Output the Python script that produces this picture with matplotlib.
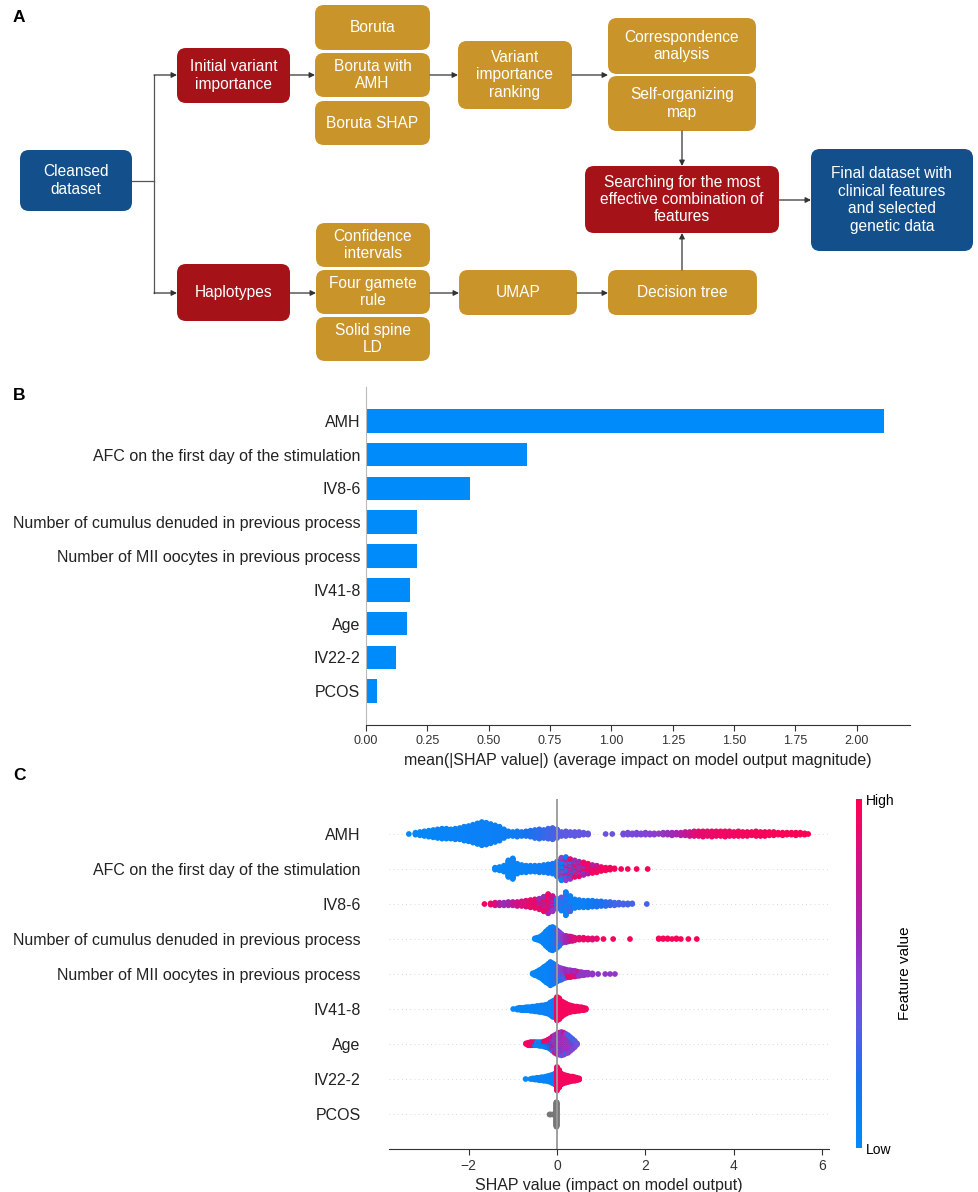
import numpy as np
import matplotlib
matplotlib.use('Agg')
import matplotlib.pyplot as plt
from matplotlib.patches import FancyBboxPatch
from matplotlib.colors import LinearSegmentedColormap, Normalize
from matplotlib.cm import ScalarMappable

plt.rcParams['font.family'] = ['Liberation Sans', 'DejaVu Sans']

# ---------------- data ----------------
features = ['AMH', 'AFC on the first day of the stimulation', 'IV8-6',
            'Number of cumulus denuded in previous process',
            'Number of MII oocytes in previous process', 'IV41-8', 'Age', 'IV22-2', 'PCOS']
mean_abs_shap = [2.11, 0.655, 0.423, 0.209, 0.206, 0.181, 0.166, 0.122, 0.043]
bar_ticks = [0.0, 0.25, 0.5, 0.75, 1.0, 1.25, 1.5, 1.75, 2.0]
swarm_ticks = [-2, 0, 2, 4, 6]

# beeswarm as (shap value, number of dots, feature value 0..1 / None = missing)
amh_swarm = [
    (-3.35, 1, 0.02), (-3.2, 4, 0.03), (-3.1, 6, 0.03), (-3.0, 8, 0.04), (-2.9, 10, 0.04),
    (-2.8, 12, 0.05), (-2.7, 14, 0.05), (-2.6, 16, 0.05), (-2.5, 16, 0.06), (-2.4, 15, 0.06),
    (-2.3, 17, 0.06), (-2.2, 18, 0.07), (-2.1, 22, 0.07), (-2.0, 24, 0.08), (-1.9, 28, 0.08),
    (-1.8, 32, 0.08), (-1.7, 36, 0.08), (-1.6, 34, 0.09), (-1.5, 30, 0.09), (-1.4, 26, 0.1),
    (-1.3, 22, 0.1), (-1.2, 14, 0.1), (-1.1, 8, 0.12), (-1.0, 7, 0.12), (-0.9, 9, 0.14),
    (-0.8, 7, 0.15), (-0.7, 8, 0.18), (-0.6, 10, 0.2), (-0.5, 13, 0.22), (-0.4, 15, 0.24),
    (-0.3, 13, 0.26), (-0.2, 16, 0.28), (-0.1, 18, 0.3), (0.0, 14, 0.32), (0.1, 7, 0.34),
    (0.2, 8, 0.35), (0.3, 6, 0.36), (0.4, 7, 0.36), (0.5, 6, 0.37), (0.6, 4, 0.38),
    (0.7, 3, 0.38), (1.1, 1, 0.4), (1.25, 1, 0.4), (1.5, 3, 0.42), (1.6, 4, 0.43),
    (1.7, 3, 0.44), (1.8, 4, 0.45), (1.9, 3, 0.46), (2.0, 4, 0.48), (2.1, 3, 0.5),
    (2.2, 3, 0.5), (2.3, 2, 0.52), (2.4, 4, 0.55), (2.5, 4, 0.58), (2.6, 5, 0.6),
    (2.7, 4, 0.65), (2.8, 5, 0.7), (2.9, 6, 0.75), (3.0, 7, 0.8), (3.1, 8, 0.85),
    (3.2, 8, 0.88), (3.3, 9, 0.9), (3.4, 8, 0.9), (3.5, 9, 0.92), (3.6, 8, 0.92),
    (3.7, 8, 0.93), (3.8, 9, 0.93), (3.9, 8, 0.94), (4.0, 7, 0.94), (4.1, 8, 0.95),
    (4.2, 7, 0.95), (4.3, 7, 0.95), (4.4, 6, 0.96), (4.5, 8, 0.96), (4.6, 7, 0.96),
    (4.7, 7, 0.97), (4.8, 6, 0.97), (4.9, 6, 0.97), (5.0, 4, 0.98), (5.1, 5, 0.98),
    (5.2, 4, 0.98), (5.3, 4, 0.99), (5.4, 5, 0.99), (5.5, 4, 0.99), (5.6, 3, 1.0), (5.68, 1, 1.0),
]
afc_swarm = [
    (-1.4, 4, 0.03), (-1.3, 6, 0.04), (-1.2, 10, 0.05), (-1.1, 26, 0.05), (-1.0, 32, 0.06),
    (-0.9, 16, 0.06), (-0.8, 12, 0.07), (-0.7, 11, 0.07), (-0.6, 10, 0.08), (-0.5, 10, 0.08),
    (-0.4, 11, 0.1), (-0.3, 12, 0.1), (-0.2, 14, 0.12), (-0.1, 16, 0.12),
    (0.0, 16, 0.1), (0.0, 5, 0.4), (0.0, 2, None),
    (0.1, 16, 0.1), (0.1, 11, 0.45), (0.1, 5, 0.85), (0.1, 3, None),
    (0.2, 14, 0.15), (0.2, 12, 0.5), (0.2, 8, 0.9), (0.2, 2, None),
    (0.3, 9, 0.15), (0.3, 11, 0.55), (0.3, 9, 0.9), (0.3, 2, None),
    (0.4, 7, 0.2), (0.4, 10, 0.6), (0.4, 9, 0.9),
    (0.5, 5, 0.3), (0.5, 9, 0.6), (0.5, 9, 0.92),
    (0.6, 3, 0.3), (0.6, 8, 0.65), (0.6, 9, 0.92),
    (0.7, 6, 0.7), (0.7, 10, 0.95), (0.8, 4, 0.7), (0.8, 9, 0.95),
    (0.9, 3, 0.75), (0.9, 8, 0.95), (1.0, 7, 0.95), (1.1, 5, 0.95), (1.2, 4, 0.97),
    (1.3, 2, 0.97), (1.45, 1, 0.97), (1.6, 1, 0.98), (1.8, 1, 0.98), (2.05, 1, 0.99),
]
iv86_swarm = [
    (-1.64, 1, 0.95), (-1.5, 3, 0.92), (-1.4, 5, 0.85), (-1.3, 5, 0.7), (-1.2, 5, 0.6),
    (-1.1, 6, 0.65), (-1.0, 6, 0.75), (-0.9, 7, 0.8), (-0.8, 8, 0.85), (-0.7, 10, 0.85),
    (-0.6, 12, 0.9), (-0.5, 14, 0.9), (-0.4, 12, 0.9), (-0.4, 5, 0.6),
    (-0.3, 16, 0.92), (-0.3, 7, 0.6), (-0.2, 20, 0.92), (-0.2, 10, 0.65),
    (-0.1, 14, 0.8), (-0.1, 10, 0.55), (0.0, 7, 0.5), (0.0, 9, 0.15),
    (0.1, 15, 0.1), (0.1, 6, 0.35), (0.2, 28, 0.08), (0.2, 8, 0.3),
    (0.3, 18, 0.08), (0.3, 6, 0.3), (0.4, 14, 0.08), (0.5, 12, 0.08), (0.6, 11, 0.1),
    (0.7, 11, 0.12), (0.8, 10, 0.15), (0.9, 9, 0.18), (1.0, 8, 0.2), (1.1, 7, 0.22),
    (1.2, 6, 0.25), (1.3, 5, 0.28), (1.4, 4, 0.3), (1.5, 3, 0.3), (1.6, 3, 0.3),
    (1.7, 2, 0.3), (2.03, 1, 0.3),
]
cumulus_swarm = [
    (-0.5, 2, 0.03), (-0.45, 4, 0.04), (-0.4, 6, 0.05), (-0.35, 10, 0.05), (-0.3, 16, 0.06),
    (-0.25, 24, 0.06), (-0.2, 30, 0.07), (-0.15, 34, 0.08), (-0.15, 2, None),
    (-0.1, 34, 0.1), (-0.1, 4, None), (-0.05, 30, 0.12), (-0.05, 4, None),
    (0.0, 18, 0.15), (0.0, 9, 0.4), (0.0, 2, None), (0.05, 12, 0.2), (0.05, 11, 0.45),
    (0.1, 5, 0.25), (0.1, 11, 0.5), (0.15, 11, 0.55), (0.2, 11, 0.6), (0.25, 9, 0.65),
    (0.3, 8, 0.75), (0.35, 7, 0.8), (0.4, 5, 0.85), (0.5, 4, 0.9), (0.6, 4, 0.92),
    (0.7, 3, 0.92), (0.8, 3, 0.85), (0.9, 2, 0.9), (1.05, 1, 0.95), (1.27, 1, 0.95),
    (1.65, 1, 0.95), (2.3, 2, 0.97), (2.4, 2, 0.97), (2.5, 2, 0.97), (2.6, 1, 0.97),
    (2.7, 2, 0.98), (2.8, 1, 0.98), (2.97, 1, 0.99), (3.16, 1, 0.99),
]
mii_swarm = [
    (-0.55, 2, 0.03), (-0.5, 5, 0.04), (-0.45, 8, 0.05), (-0.4, 12, 0.05), (-0.35, 16, 0.06),
    (-0.3, 22, 0.06), (-0.25, 27, 0.07), (-0.2, 32, 0.07), (-0.15, 36, 0.08), (-0.15, 2, None),
    (-0.1, 30, 0.1), (-0.1, 4, None), (-0.05, 26, 0.12), (-0.05, 4, None),
    (0.0, 16, 0.15), (0.0, 9, 0.4), (0.05, 12, 0.2), (0.05, 9, 0.45),
    (0.1, 10, 0.25), (0.1, 9, 0.5), (0.15, 7, 0.3), (0.15, 9, 0.55), (0.2, 5, 0.3), (0.2, 9, 0.6),
    (0.25, 7, 0.6), (0.25, 5, 0.9), (0.3, 7, 0.55), (0.3, 5, 0.92), (0.35, 6, 0.6), (0.35, 4, 0.9),
    (0.4, 6, 0.6), (0.4, 4, 0.85), (0.45, 5, 0.6), (0.45, 3, 0.8), (0.5, 5, 0.55), (0.5, 2, 0.8),
    (0.55, 6, 0.55), (0.6, 5, 0.55), (0.65, 4, 0.55), (0.7, 4, 0.55), (0.8, 3, 0.55),
    (0.93, 1, 0.55), (1.09, 1, 0.55), (1.2, 1, 0.55), (1.31, 1, 0.55),
]
iv418_swarm = [
    (-0.99, 1, 0.03), (-0.9, 3, 0.03), (-0.85, 4, 0.04), (-0.8, 5, 0.04), (-0.75, 5, 0.05),
    (-0.7, 6, 0.05), (-0.65, 6, 0.05), (-0.6, 7, 0.06), (-0.55, 8, 0.06), (-0.5, 9, 0.06),
    (-0.45, 10, 0.07), (-0.4, 11, 0.07), (-0.35, 12, 0.07), (-0.3, 13, 0.08), (-0.25, 15, 0.08),
    (-0.2, 17, 0.08), (-0.15, 22, 0.09), (-0.1, 27, 0.09), (-0.05, 30, 0.1),
    (0.0, 40, 0.95), (0.05, 36, 0.95), (0.1, 27, 0.95), (0.15, 22, 0.95), (0.2, 18, 0.95),
    (0.25, 14, 0.95), (0.3, 12, 0.95), (0.35, 10, 0.95), (0.4, 9, 0.95), (0.45, 8, 0.95),
    (0.5, 7, 0.95), (0.55, 6, 0.95), (0.6, 5, 0.95), (0.65, 3, 0.95),
]
age_swarm = [
    (-0.7, 2, 0.95), (-0.65, 5, 0.95), (-0.6, 6, 0.92), (-0.55, 6, 0.9), (-0.5, 4, 0.9),
    (-0.5, 2, 0.08), (-0.45, 6, 0.06), (-0.4, 6, 0.06), (-0.4, 1, 0.9), (-0.35, 7, 0.08),
    (-0.3, 6, 0.1), (-0.3, 3, 0.9), (-0.25, 6, 0.12), (-0.25, 5, 0.9), (-0.2, 6, 0.15),
    (-0.2, 8, 0.88), (-0.15, 7, 0.2), (-0.15, 11, 0.85), (-0.1, 9, 0.25), (-0.1, 15, 0.8),
    (-0.05, 9, 0.3), (-0.05, 11, 0.75), (-0.05, 9, 0.55),
    (0.0, 11, 0.35), (0.0, 11, 0.6), (0.0, 11, 0.85),
    (0.05, 12, 0.3), (0.05, 12, 0.55), (0.05, 12, 0.85),
    (0.1, 13, 0.3), (0.1, 13, 0.55), (0.1, 12, 0.8),
    (0.15, 12, 0.25), (0.15, 12, 0.5), (0.15, 12, 0.75),
    (0.2, 11, 0.25), (0.2, 11, 0.5), (0.2, 10, 0.7),
    (0.25, 10, 0.3), (0.25, 10, 0.5), (0.25, 9, 0.7),
    (0.3, 8, 0.3), (0.3, 8, 0.5), (0.3, 7, 0.7),
    (0.35, 6, 0.3), (0.35, 6, 0.45), (0.35, 5, 0.65),
    (0.4, 4, 0.3), (0.4, 4, 0.45), (0.4, 3, 0.6), (0.45, 3, 0.4),
]
iv222_swarm = [
    (-0.71, 1, 0.03), (-0.6, 1, 0.03), (-0.55, 2, 0.04), (-0.5, 3, 0.04), (-0.45, 4, 0.05),
    (-0.4, 5, 0.05), (-0.35, 6, 0.05), (-0.3, 7, 0.06), (-0.25, 8, 0.06), (-0.2, 10, 0.07),
    (-0.15, 12, 0.07), (-0.1, 15, 0.08), (-0.05, 19, 0.08),
    (0.0, 40, 0.95), (0.05, 30, 0.95), (0.1, 19, 0.95), (0.15, 15, 0.95), (0.2, 13, 0.95),
    (0.25, 11, 0.95), (0.3, 9, 0.95), (0.35, 8, 0.95), (0.4, 7, 0.95), (0.45, 5, 0.95),
    (0.5, 3, 0.95),
]
pcos_swarm = [(-0.19, 1, None), (-0.15, 1, None), (-0.11, 1, None), (-0.07, 1, None),
              (-0.015, 80, None)]

swarms = [amh_swarm, afc_swarm, iv86_swarm, cumulus_swarm, mii_swarm,
          iv418_swarm, age_swarm, iv222_swarm, pcos_swarm]

# ---------------- helpers ----------------
shap_blue = '#008bfb'
red_blue = LinearSegmentedColormap.from_list('red_blue', [
    (0.0, '#008bfb'), (0.2, '#1a72f0'), (0.35, '#5c5be2'), (0.5, '#8a3fd0'),
    (0.62, '#a026b4'), (0.78, '#c8148f'), (0.9, '#e80a6c'), (1.0, '#ff0052')])


def expand(entries):
    """turn (x, n, f) groups into dots, mixing groups that share an x"""
    groups = {}
    for x, n, f in entries:
        groups.setdefault(x, []).append((n, f))
    xs, fs = [], []
    for x, grp in groups.items():
        items = []
        for n, f in grp:
            for j in range(n):
                items.append(((j + 0.5) / n, f))
        items.sort(key=lambda t: t[0])
        for _, f in items:
            xs.append(x)
            fs.append(np.nan if f is None else f)
    return np.array(xs), np.array(fs)


def swarm_offsets(xs, row_height=0.4, nbins=100):
    # same stacking rule as shap's summary plot
    span = xs.max() - xs.min()
    quant = np.round(nbins * (xs - xs.min()) / (span + 1e-8))
    order = np.argsort(quant, kind='stable')
    ys = np.zeros(len(xs))
    layer, last = 0, None
    for i in order:
        if quant[i] != last:
            layer = 0
        ys[i] = np.ceil(layer / 2) * ((layer % 2) * 2 - 1)
        layer += 1
        last = quant[i]
    ys *= 0.9 * (row_height / np.max(ys + 1))
    return ys


# ---------------- figure ----------------
W, H = 979, 1192
fig = plt.figure(figsize=(W / 100, H / 100), dpi=100)

# panel A: flowchart drawn in pixel coordinates
fa = fig.add_axes([0, 0, 1, 1])
fa.set_xlim(0, W)
fa.set_ylim(H, 0)
fa.axis('off')

blue_c, red_c, gold_c = '#134f8b', '#a51319', '#c9952b'
boxes = [
    (20, 150, 132, 211, blue_c, 'Cleansed\ndataset'),
    (177, 48, 290, 103, red_c, 'Initial variant\nimportance'),
    (177, 264, 290, 321, red_c, 'Haplotypes'),
    (315, 5, 430, 50, gold_c, 'Boruta'),
    (315, 53, 430, 97, gold_c, 'Boruta with\nAMH'),
    (315, 101, 430, 145, gold_c, 'Boruta SHAP'),
    (316, 223, 430, 267, gold_c, 'Confidence\nintervals'),
    (316, 270, 430, 314, gold_c, 'Four gamete\nrule'),
    (316, 317, 430, 361, gold_c, 'Solid spine\nLD'),
    (458, 41, 572, 109, gold_c, 'Variant\nimportance\nranking'),
    (459, 270, 577, 315, gold_c, 'UMAP'),
    (608, 18, 756, 74, gold_c, 'Correspondence\nanalysis'),
    (608, 76, 756, 131, gold_c, 'Self-organizing\nmap'),
    (608, 270, 757, 315, gold_c, 'Decision tree'),
    (585, 166, 779, 233, red_c, 'Searching for the most\neffective combination of\nfeatures'),
    (811, 149, 973, 251, blue_c, 'Final dataset with\nclinical features\nand selected\ngenetic data'),
]
for x0, y0, x1, y1, col, txt in boxes:
    fa.add_patch(FancyBboxPatch((x0, y0), x1 - x0, y1 - y0,
                                boxstyle='round,pad=0,rounding_size=9',
                                fc=col, ec='none'))
    fa.text((x0 + x1) / 2, (y0 + y1) / 2, txt, color='white', fontsize=11.2,
            ha='center', va='center', linespacing=1.2)

line_c = '#555555'
fa.plot([132, 154], [181, 181], color=line_c, lw=0.9)
fa.plot([154, 154], [75, 293], color=line_c, lw=0.9)
arrows = [((154, 75), (177, 75)), ((154, 293), (177, 293)),
          ((290, 75), (315, 75)), ((290, 293), (316, 293)),
          ((430, 75), (458, 75)), ((430, 293), (459, 293)),
          ((572, 75), (608, 75)), ((577, 293), (608, 293)),
          ((682, 131), (682, 166)), ((682, 270), (682, 233)),
          ((779, 200), (811, 200))]
for a, b in arrows:
    fa.annotate('', xy=b, xytext=a,
                arrowprops=dict(arrowstyle='-|>', color='#333333', lw=0.9,
                                mutation_scale=8, shrinkA=0, shrinkB=0))

for letter, yy in [('A', 10), ('B', 388), ('C', 768)]:
    fa.text(13, yy, letter, fontsize=12.5, fontweight='bold', ha='left', va='top')

# panel B: mean |SHAP| bars
axb = fig.add_axes([366 / W, 1 - 725 / H, (910 - 366) / W, (725 - 387) / H])
pos = np.arange(len(features))
axb.barh(pos, mean_abs_shap, height=0.7, color=shap_blue)
axb.set_yticks(pos)
axb.set_yticklabels(features, fontsize=11.5, color='#222222')
axb.set_ylim(len(features), -1)
axb.set_xlim(0, 2.217)
axb.set_xticks(bar_ticks)
axb.set_xticklabels(['%.2f' % t for t in bar_ticks])
axb.tick_params('x', labelsize=9, colors='#333333', length=4, width=0.8)
axb.tick_params('y', length=0, pad=4)
axb.set_xlabel('mean(|SHAP value|) (average impact on model output magnitude)',
               fontsize=11.5, color='#222222', labelpad=4)
for s in ['top', 'right']:
    axb.spines[s].set_visible(False)
axb.spines['left'].set_color('#bbbbbb')
axb.spines['left'].set_linewidth(0.8)
axb.spines['bottom'].set_color('#333333')

# panel C: beeswarm
axc = fig.add_axes([388.5 / W, 1 - 1149 / H, (829 - 388.5) / W, (1149 - 799) / H])
nrow = len(features)
for i, entries in enumerate(swarms):
    row = nrow - 1 - i
    xs, fs = expand(entries)
    ys = swarm_offsets(xs)
    axc.axhline(row, color='#cccccc', lw=0.6, dashes=(1, 4), zorder=-1)
    nan = np.isnan(fs)
    axc.scatter(xs[nan], row + ys[nan], color='#777777', s=17, linewidth=0, zorder=3)
    axc.scatter(xs[~nan], row + ys[~nan], c=fs[~nan], cmap=red_blue, vmin=0, vmax=1,
                s=17, linewidth=0, zorder=3)
axc.axvline(0, color='#999999', lw=1.3, zorder=4)
axc.set_ylim(-1, nrow)
axc.set_xlim(-3.81, 6.15)
axc.set_yticks(range(nrow))
axc.set_yticklabels(features[::-1], fontsize=11.5, color='#222222')
axc.set_xticks(swarm_ticks)
axc.set_xticklabels(['\u2212%d' % -t if t < 0 else '%d' % t for t in swarm_ticks])
axc.tick_params('y', length=0, pad=20)
axc.tick_params('x', labelsize=10, colors='#333333', length=4, width=0.8)
axc.set_xlabel('SHAP value (impact on model output)', fontsize=11.5, color='#222222',
               labelpad=3)
for s in ['top', 'right', 'left']:
    axc.spines[s].set_visible(False)
axc.spines['bottom'].set_color('#333333')

cax = fig.add_axes([856 / W, 1 - 1148 / H, 6 / W, 349 / H])
cb = fig.colorbar(ScalarMappable(norm=Normalize(0, 1), cmap=red_blue), cax=cax, ticks=[0, 1])
cb.set_ticklabels(['Low', 'High'])
cb.outline.set_visible(False)
cax.tick_params(length=0, labelsize=10, pad=3)
cb.set_label('Feature value', size=11, labelpad=2)

fig.savefig('out.png', dpi=100)
